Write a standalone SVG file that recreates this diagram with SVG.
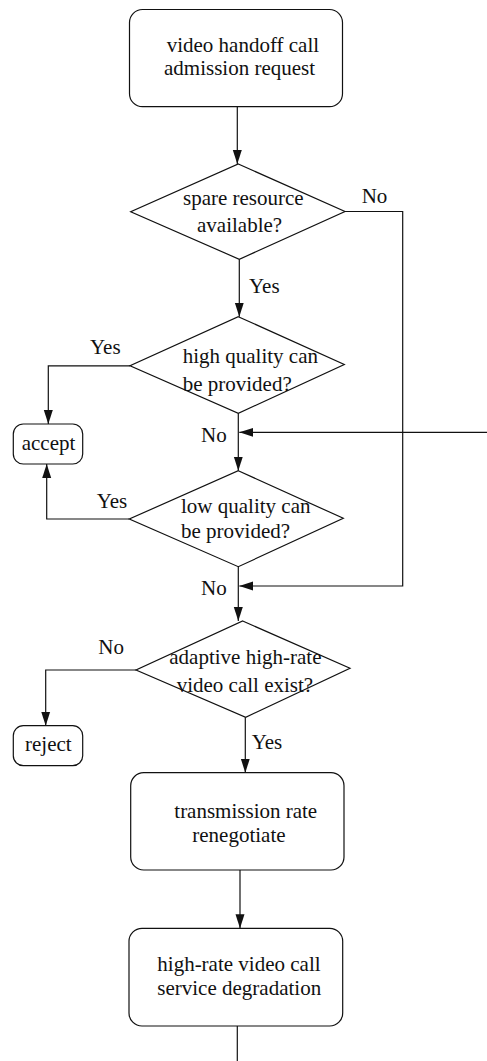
<svg xmlns="http://www.w3.org/2000/svg" width="487" height="1061" viewBox="0 0 487 1061">
  <style>
    .shape { fill: #fff; stroke: #111; stroke-width: 1.2; }
    .wire { fill: none; stroke: #111; stroke-width: 1.2; }
    text { font-family: "Liberation Serif", "Times New Roman", serif; font-size: 21px; fill: #111; }
  </style>
  <defs>
    <marker id="arrow" viewBox="0 0 14 10" refX="14" refY="5" markerWidth="14" markerHeight="10" markerUnits="userSpaceOnUse" orient="auto">
      <path d="M0,0.5 L14,5 L0,9.5 Z" fill="#111"/>
    </marker>
  </defs>

  <rect width="487" height="1061" fill="#fff"/>

  <!-- connectors -->
  <g id="connectors">
    <path class="wire" d="M237.3,106.7 V164" marker-end="url(#arrow)"/>
    <path class="wire" d="M345,211.5 H402.7 V586 H239.3" marker-end="url(#arrow)"/>
    <path class="wire" d="M239.3,259.3 V316.7" marker-end="url(#arrow)"/>
    <path class="wire" d="M130,365.8 H48.3 V424" marker-end="url(#arrow)"/>
    <path class="wire" d="M238.3,413.3 V470.7" marker-end="url(#arrow)"/>
    <path class="wire" d="M487,432.3 H239.3" marker-end="url(#arrow)"/>
    <path class="wire" d="M129.3,519 H46.7 V464" marker-end="url(#arrow)"/>
    <path class="wire" d="M238.3,566.7 V621" marker-end="url(#arrow)"/>
    <path class="wire" d="M136,670 H45.7 V725.7" marker-end="url(#arrow)"/>
    <path class="wire" d="M245.3,717.3 V772.7" marker-end="url(#arrow)"/>
    <path class="wire" d="M240,870 V928.3" marker-end="url(#arrow)"/>
    <path class="wire" d="M237.3,1026 V1061"/>
    <text x="361.7" y="202.7">No</text>
    <text x="249" y="293.3">Yes</text>
    <text x="90" y="354">Yes</text>
    <text x="201" y="441.7">No</text>
    <text x="96.7" y="508.3">Yes</text>
    <text x="201" y="595">No</text>
    <text x="98.3" y="654.3">No</text>
    <text x="251.7" y="749">Yes</text>
  </g>

  <g id="request">
    <rect class="shape" x="129.5" y="9.5" width="213" height="97.2" rx="13"/>
    <text x="166.7" y="51.7">video handoff call</text>
    <text x="164" y="75">admission request</text>
  </g>

  <g id="spare-check">
    <polygon class="shape" points="238.3,164 345,211.5 239.3,259.3 130.7,211.7"/>
    <text x="183" y="205">spare resource</text>
    <text x="197" y="231.7">available?</text>
  </g>

  <g id="high-quality-check">
    <polygon class="shape" points="238.3,316.7 344.3,364.5 238.3,413.3 130,365.8"/>
    <text x="182.7" y="363.3">high quality can</text>
    <text x="182.7" y="390.7">be provided?</text>
  </g>

  <g id="accept">
    <rect class="shape" x="13.3" y="424" width="69.4" height="40" rx="10"/>
    <text x="21.7" y="450">accept</text>
  </g>

  <g id="low-quality-check">
    <polygon class="shape" points="238.3,470.7 343.3,518.3 238.3,566.7 129.3,519"/>
    <text x="181" y="512.7">low quality can</text>
    <text x="181" y="538.3">be provided?</text>
  </g>

  <g id="adaptive-check">
    <polygon class="shape" points="242.7,621 350,668.3 245.7,717.3 136,670"/>
    <text x="169.3" y="664">adaptive high-rate</text>
    <text x="176.7" y="691.7">video call exist?</text>
  </g>

  <g id="reject">
    <rect class="shape" x="13.3" y="725.7" width="69.4" height="40" rx="10"/>
    <text x="25" y="750.7">reject</text>
  </g>

  <g id="renegotiate">
    <rect class="shape" x="130.7" y="772.7" width="213.3" height="97.3" rx="13"/>
    <text x="174.3" y="818.3">transmission rate</text>
    <text x="192.3" y="841.7">renegotiate</text>
  </g>

  <g id="degradation">
    <rect class="shape" x="129" y="928.3" width="213.7" height="97.7" rx="13"/>
    <text x="157.3" y="971">high-rate video call</text>
    <text x="157.3" y="995">service degradation</text>
  </g>
</svg>
